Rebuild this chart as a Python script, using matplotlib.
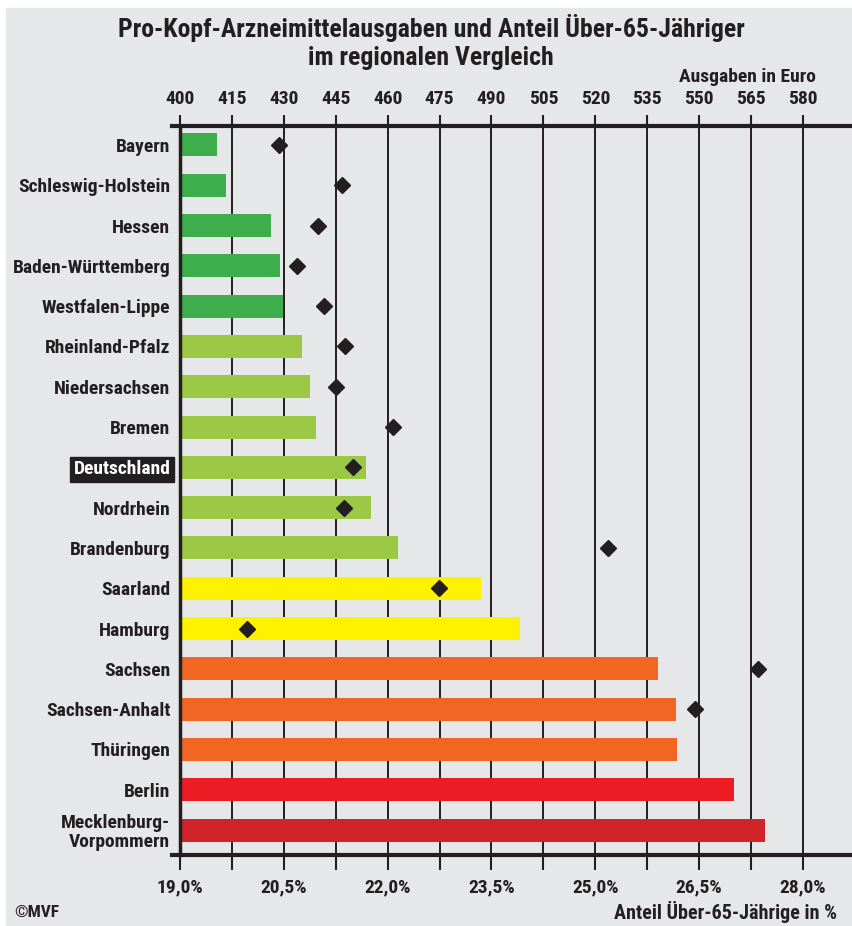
import matplotlib.pyplot as plt
from matplotlib import font_manager
from matplotlib.patches import Rectangle
import numpy as np

# Daten
regions = ["Bayern", "Schleswig-Holstein", "Hessen", "Baden-Württemberg",
           "Westfalen-Lippe", "Rheinland-Pfalz", "Niedersachsen", "Bremen",
           "Deutschland", "Nordrhein", "Brandenburg", "Saarland", "Hamburg",
           "Sachsen", "Sachsen-Anhalt", "Thüringen", "Berlin",
           "Mecklenburg-\nVorpommern"]
ausgaben = [410.7, 413.3, 426.3, 428.9, 429.8, 435.2, 437.6, 439.3, 453.7,
            455.2, 463.0, 487.1, 498.2, 538.1, 543.3, 543.6, 560.1, 569.0]
anteil_65 = [20.43, 21.34, 21.00, 20.69, 21.08, 21.38, 21.26, 22.07, 21.50,
             21.37, 25.19, 22.74, 19.97, 27.35, 26.44, np.nan, np.nan, np.nan]
bar_colors = ["#3dae4b"] * 5 + ["#9bc945"] * 6 + ["#fff200"] * 2 + \
             ["#f26522"] * 3 + ["#ed1c24", "#d1232a"]
euro_ticks = list(range(400, 581, 15))
pct_ticks = np.arange(19, 28.01, 0.75)
pct_labels = [f"{t:.1f}%".replace(".", ",") if i % 2 == 0 else ""
              for i, t in enumerate(pct_ticks)]

bg = "#e6e7e8"
dark = "#231f20"

# schmale Schrift suchen, falls vorhanden
names = {f.name for f in font_manager.fontManager.ttflist}
family = "DejaVu Sans"
for cand in ["Roboto Condensed", "Liberation Sans Narrow", "Open Sans Condensed"]:
    if cand in names:
        family = cand
        break
plt.rcParams['font.family'] = [family, 'DejaVu Sans']
plt.rcParams['font.weight'] = 'bold'

fig = plt.figure(figsize=(8.52, 9.26), dpi=100, facecolor="white")
fig.patches.append(Rectangle((6 / 852, 0), 1, 918 / 926, transform=fig.transFigure,
                             color=bg, zorder=-1))

ax = fig.add_axes([180 / 852, 71 / 926, 671 / 852, 729 / 926])
ax.set_facecolor(bg)
ax.set_axisbelow(True)

y = np.arange(len(regions))
ax.barh(y, ausgaben, height=0.57, color=bar_colors)
xmax = 400 + 671 / 3.461
ax.set_xlim(400, xmax)
ax.set_ylim(17.62, -0.47)

# untere Achse (Anteil in %)
ax2 = ax.twiny()
ax2.set_xlim(19, 19 + (xmax - 400) / 20)
ax2.plot(anteil_65, y, linestyle='none', marker='D', markersize=8.5,
         color=dark, zorder=6)
ax2.xaxis.set_ticks_position('bottom')
ax2.xaxis.set_label_position('bottom')
ax2.set_xticks(pct_ticks, pct_labels)
ax2.tick_params(axis='x', direction='out', length=11, width=1.5, color=dark,
                labelsize=14, labelcolor=dark, pad=6)
for s in ax2.spines.values():
    s.set_visible(False)

# obere Achse (Euro)
ax.xaxis.tick_top()
ax.set_xticks(euro_ticks)
ax.tick_params(axis='x', direction='out', length=8, width=1.5, color=dark,
               labelsize=14, labelcolor=dark, pad=5)
ax.grid(axis='x', color=dark, linewidth=1.4)
ax.set_yticks(y, regions)
ax.tick_params(axis='y', length=0, pad=7, labelsize=14, labelcolor=dark)
for lab in ax.get_yticklabels():
    lab.set_horizontalalignment('right')
    lab.set_linespacing(1.1)
    if lab.get_text() == "Deutschland":
        lab.set_color("white")
        lab.set_bbox(dict(facecolor=dark, edgecolor=dark, pad=2.5))

for s in ["top", "bottom", "right"]:
    ax.spines[s].set_visible(False)
ax.spines["left"].set_linewidth(2.5)
ax.spines["left"].set_color(dark)
for yy in (0, 1):
    ax.plot([-8 / 671, 1], [yy, yy], transform=ax.transAxes, color=dark,
            linewidth=3, clip_on=False, zorder=5)

# Texte
fig.text(431 / 852, 1 - 42 / 926,
         "Pro-Kopf-Arzneimittelausgaben und Anteil Über-65-Jähriger\nim regionalen Vergleich",
         ha='center', va='center', fontsize=18.5, color=dark, linespacing=1.2)
fig.text(816 / 852, 1 - 77 / 926, "Ausgaben in Euro", ha='right', va='center',
         fontsize=14, color=dark)
fig.text(837 / 852, 1 - 912 / 926, "Anteil Über-65-Jährige in %", ha='right',
         va='center', fontsize=14.5, color=dark)
fig.text(14 / 852, 1 - 912 / 926, "©MVF", ha='left', va='center',
         fontsize=12.5, color=dark)

plt.savefig("out.png", dpi=100, facecolor="white")
